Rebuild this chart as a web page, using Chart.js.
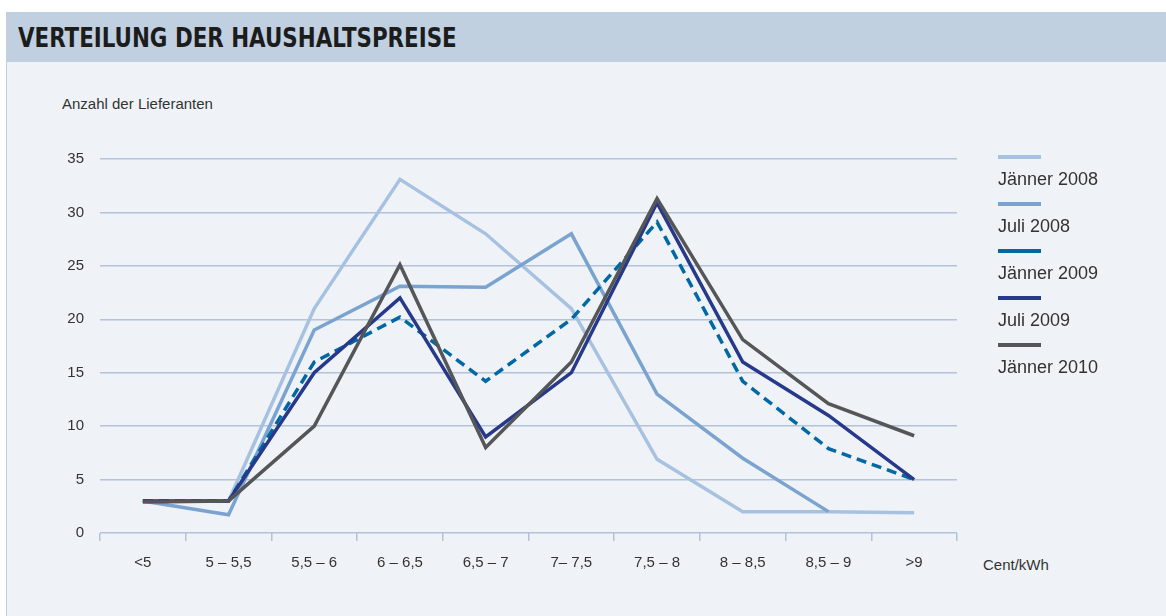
<!DOCTYPE html>
<html>
<head>
<meta charset="utf-8">
<script src="https://cdn.jsdelivr.net/npm/chart.js@4/dist/chart.umd.min.js"></script>
<style>
  html, body { margin: 0; padding: 0; background: #ffffff; }
  #wrap { position: relative; width: 1166px; height: 616px; overflow: hidden; }
  #header {
    position: absolute; left: 6px; top: 12px; width: 1160px; height: 50px;
    background: #c1d0e1;
  }
  #header h1 {
    margin: 0; position: absolute; left: 12px; top: 11px;
    font-family: "Liberation Sans Narrow", "DejaVu Sans Condensed", sans-serif;
    font-weight: bold; font-size: 26px; color: #1c1c1c;
    transform: scaleX(0.915); transform-origin: left center; white-space: nowrap;
  }
  #panel {
    position: absolute; left: 6px; top: 62px; width: 1160px; height: 554px;
    background: #eff3f8; border-left: 1px solid #c1d0e1; box-sizing: border-box;
  }
  #chartBox { position: absolute; left: 0; top: 62px; width: 1166px; height: 554px; }
  #yTitle {
    position: absolute; left: 62px; top: 95px;
    font-family: "Liberation Sans", Arial, sans-serif; font-size: 15px; color: #333;
  }
  #xTitle {
    position: absolute; left: 983px; top: 556px;
    font-family: "Liberation Sans", Arial, sans-serif; font-size: 15px; color: #333;
  }
  #legend { position: absolute; left: 998px; top: 155px; }
  .item { height: 47px; position: relative; }
  .swatch { position: absolute; left: 0; top: 0; width: 43px; height: 4px; }
  .label {
    position: absolute; left: 0; top: 14px; white-space: nowrap;
    font-family: "Liberation Sans", Arial, sans-serif; font-size: 18px; color: #333;
  }
</style>
</head>
<body>
<div id="wrap">
  <div id="header"><h1>VERTEILUNG DER HAUSHALTSPREISE</h1></div>
  <div id="panel"></div>
  <div id="yTitle">Anzahl der Lieferanten</div>
  <div id="xTitle">Cent/kWh</div>
  <div id="chartBox"><canvas id="priceChart"></canvas></div>
  <div id="legend"></div>
</div>
<script>
// Preisklassen (Cent/kWh)
const categories = ['<5', '5 – 5,5', '5,5 – 6', '6 – 6,5', '6,5 – 7', '7– 7,5', '7,5 – 8', '8 – 8,5', '8,5 – 9', '>9'];

// Anzahl der Lieferanten je Preisklasse
const jaenner2008 = [3, 3, 21, 33.1, 28, 21, 6.9, 2, 2, 1.9];
const juli2008    = [3, 1.7, 19, 23.1, 23, 28, 13, 7, 2, null];
const jaenner2009 = [3, 3, 16, 20.2, 14.2, 20, 29.1, 14.2, 7.9, 5];
const juli2009    = [3, 3, 15, 22, 9, 15, 30.9, 16, 11, 5];
const jaenner2010 = [2.9, 3, 10, 25.1, 8, 16, 31.3, 18.1, 12.1, 9.1];

const seriesNames  = ['Jänner 2008', 'Juli 2008', 'Jänner 2009', 'Juli 2009', 'Jänner 2010'];
const seriesValues = [jaenner2008, juli2008, jaenner2009, juli2009, jaenner2010];
const seriesColors = ['#a7c1e0', '#7aa3d0', '#0068a5', '#27398a', '#555657'];

const yTicks = [0, 5, 10, 15, 20, 25, 30, 35];

// Legende (Linie über Text)
const legendEl = document.getElementById('legend');
seriesNames.forEach((name, i) => {
    const item = document.createElement('div');
    item.className = 'item';
    item.innerHTML = `<div class="swatch" style="background:${seriesColors[i]}"></div><div class="label">${name}</div>`;
    legendEl.appendChild(item);
});

const datasets = seriesNames.map((name, i) => ({
    label: name,
    data: seriesValues[i],
    borderColor: seriesColors[i],
    backgroundColor: seriesColors[i],
    borderWidth: 3.5,
    borderDash: name === 'Jänner 2009' ? [10, 6] : [],
    pointRadius: 0,
    tension: 0,
    fill: false,
    order: seriesNames.length - i   // letzte Reihe oben
}));

const ctx = document.getElementById('priceChart').getContext('2d');
new Chart(ctx, {
    type: 'line',
    data: { labels: categories, datasets: datasets },
    options: {
        responsive: true,
        maintainAspectRatio: false,
        animation: false,
        layout: { padding: { left: 0, right: 209, top: 97, bottom: 43 } },
        plugins: {
            legend: { display: false },
            title: { display: false },
            tooltip: { enabled: false }
        },
        scales: {
            x: {
                offset: true,
                grid: {
                    offset: true,
                    drawOnChartArea: false,
                    drawTicks: true,
                    tickLength: 8,
                    color: '#b4c2da',
                    lineWidth: 1.5
                },
                border: { display: false },
                ticks: {
                    padding: 13,
                    color: '#333',
                    font: { family: 'Liberation Sans', size: 15 },
                    maxRotation: 0,
                    autoSkip: false
                },
                afterFit: (scale) => { scale.height = 40; }
            },
            y: {
                min: 0,
                max: 35,
                afterBuildTicks: (scale) => { scale.ticks = yTicks.map(v => ({ value: v })); },
                grid: { color: '#b4c2da', lineWidth: 1.5, drawTicks: false },
                border: { display: false },
                ticks: {
                    padding: 16,
                    color: '#333',
                    font: { family: 'Liberation Sans', size: 15 }
                },
                afterFit: (scale) => { scale.width = 100; }
            }
        }
    }
});
</script>
</body>
</html>
